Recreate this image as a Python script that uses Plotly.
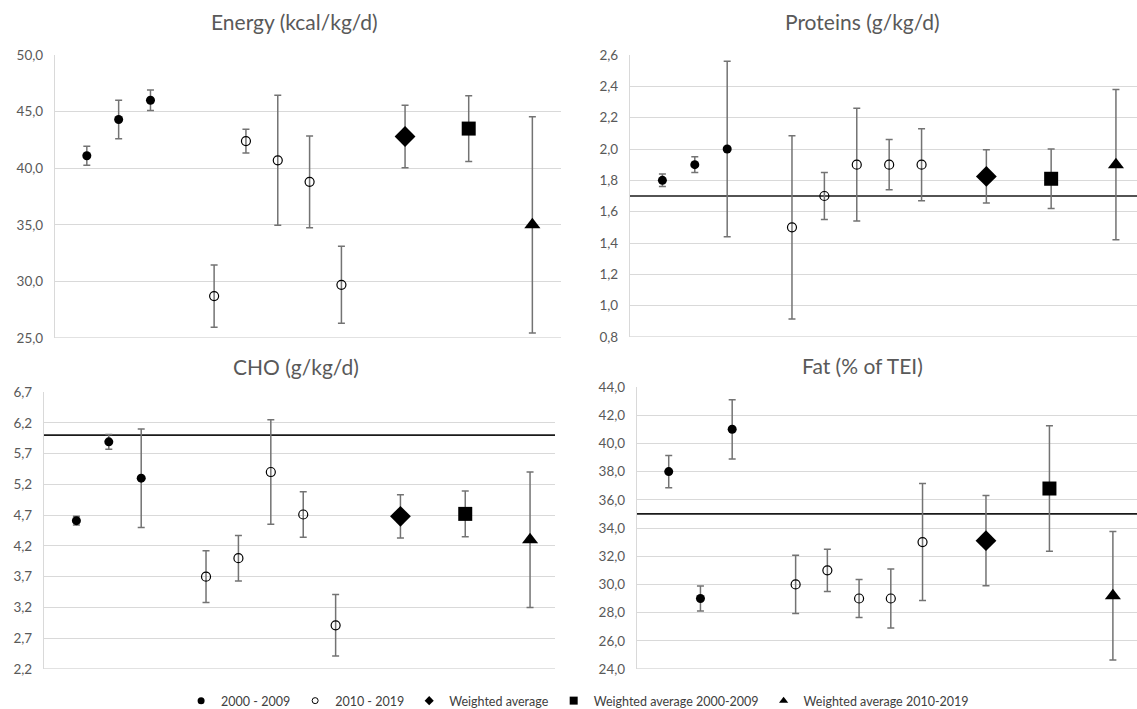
import plotly.graph_objects as go

# ---------------- data ----------------
pos_2000s = [1, 2, 3]
pos_2010s = [5, 6, 7, 8, 9]
pos_wavg = [11]
pos_wavg00 = [13]
pos_wavg10 = [15]

# Energy (kcal/kg/d)
energy_2000s = [41.1, 44.3, 46.0]
energy_2000s_err = [0.85, 1.7, 0.9]
energy_2010s = [28.7, 42.4, 40.7, 38.8, 29.7]
energy_2010s_err = [2.75, 1.05, 5.75, 4.05, 3.4]
energy_wavg, energy_wavg_err = [42.8], [2.75]
energy_wavg00, energy_wavg00_err = [43.5], [2.9]
energy_wavg10, energy_wavg10_err = [35.0], [9.55]

# Proteins (g/kg/d)
prot_2000s = [1.80, 1.90, 2.00]
prot_2000s_err = [0.04, 0.05, 0.56]
prot_2010s = [1.50, 1.70, 1.90, 1.90, 1.90]
prot_2010s_err = [0.585, 0.15, 0.36, 0.16, 0.23]
prot_wavg, prot_wavg_err = [1.825], [0.17]
prot_wavg00, prot_wavg00_err = [1.81], [0.19]
prot_wavg10, prot_wavg10_err = [1.90], [0.48]
prot_ref = 1.7

# CHO (g/kg/d)
cho_2000s = [4.61, 5.89, 5.30]
cho_2000s_err = [0.07, 0.12, 0.80]
cho_2010s = [3.70, 4.00, 5.40, 4.71, 2.91]
cho_2010s_err = [0.42, 0.37, 0.85, 0.37, 0.50]
cho_wavg, cho_wavg_err = [4.68], [0.35]
cho_wavg00, cho_wavg00_err = [4.72], [0.37]
cho_wavg10, cho_wavg10_err = [4.30], [1.10]
cho_ref = 6.0

# Fat (% of TEI)
fat_2000s = [38.0, 29.0, 41.0]
fat_2000s_err = [1.15, 0.88, 2.1]
fat_2010s = [30.0, 31.0, 29.0, 29.0, 33.0]
fat_2010s_err = [2.07, 1.5, 1.35, 2.1, 4.15]
fat_wavg, fat_wavg_err = [33.1], [3.2]
fat_wavg00, fat_wavg00_err = [36.8], [4.45]
fat_wavg10, fat_wavg10_err = [29.2], [4.56]
fat_ref = 35.0

series_names = ["2000 - 2009", "2010 - 2019", "Weighted average",
                "Weighted average 2000-2009", "Weighted average 2010-2019"]

titles = ["Energy (kcal/kg/d)", "Proteins (g/kg/d)", "CHO (g/kg/d)", "Fat (% of TEI)"]

# ---------------- styling ----------------
W, H = 1137, 709
FONT = "Lato"
TXT = "#595959"
GRID = "#d9d9d9"
ERR = "#737373"

styles = [
    dict(symbol="circle", size=9, color="black", line=dict(width=0)),
    dict(symbol="circle-open", size=9, color="black", line=dict(width=1.2)),
    dict(symbol="diamond", size=16, color="black", line=dict(width=0)),
    dict(symbol="square", size=14, color="black", line=dict(width=0)),
    dict(symbol="triangle-up", size=14, color="black", line=dict(width=0)),
]

panels = [
    dict(data=[(pos_2000s, energy_2000s, energy_2000s_err),
               (pos_2010s, energy_2010s, energy_2010s_err),
               (pos_wavg, energy_wavg, energy_wavg_err),
               (pos_wavg00, energy_wavg00, energy_wavg00_err),
               (pos_wavg10, energy_wavg10, energy_wavg10_err)],
         ref=None, yr=(25, 50), dtick=5, box=(55, 561, 55, 338), xmax=15.9),
    dict(data=[(pos_2000s, prot_2000s, prot_2000s_err),
               (pos_2010s, prot_2010s, prot_2010s_err),
               (pos_wavg, prot_wavg, prot_wavg_err),
               (pos_wavg00, prot_wavg00, prot_wavg00_err),
               (pos_wavg10, prot_wavg10, prot_wavg10_err)],
         ref=prot_ref, yr=(0.8, 2.6), dtick=0.2, box=(630, 1137, 55, 337), xmax=15.65),
    dict(data=[(pos_2000s, cho_2000s, cho_2000s_err),
               (pos_2010s, cho_2010s, cho_2010s_err),
               (pos_wavg, cho_wavg, cho_wavg_err),
               (pos_wavg00, cho_wavg00, cho_wavg00_err),
               (pos_wavg10, cho_wavg10, cho_wavg10_err)],
         ref=cho_ref, yr=(2.2, 6.7), dtick=0.5, box=(44, 555, 392, 669), xmax=15.77),
    dict(data=[(pos_2000s, fat_2000s, fat_2000s_err),
               (pos_2010s, fat_2010s, fat_2010s_err),
               (pos_wavg, fat_wavg, fat_wavg_err),
               (pos_wavg00, fat_wavg00, fat_wavg00_err),
               (pos_wavg10, fat_wavg10, fat_wavg10_err)],
         ref=fat_ref, yr=(24, 44), dtick=2, box=(637, 1137, 387, 669), xmax=15.76),
]

title_pos = [(294, 22), (862, 22), (296, 366), (862, 365)]

fig = go.Figure()
layout = dict(
    width=W, height=H, margin=dict(l=0, r=0, t=0, b=0, autoexpand=False),
    paper_bgcolor="white", plot_bgcolor="white",
    separators=",.",
    font=dict(family=FONT, color=TXT, size=13),
    showlegend=True,
    legend=dict(orientation="h", x=0.508, xanchor="center", y=1 - 701 / H, yanchor="middle",
                font=dict(family=FONT, size=12.5, color="#404040"),
                itemwidth=30, tracegroupgap=0, bgcolor="rgba(0,0,0,0)"),
    annotations=[], shapes=[],
)

for i, p in enumerate(panels):
    ax = "" if i == 0 else str(i + 1)
    xa, ya = "x" + ax, "y" + ax
    l, r, t, b = p["box"]
    layout["xaxis" + ax] = dict(domain=[l / W, r / W], range=[0, p["xmax"]], showgrid=False,
                                zeroline=False, showticklabels=False, ticks="",
                                showline=False, anchor=ya, fixedrange=True, automargin=False)
    layout["yaxis" + ax] = dict(domain=[1 - b / H, 1 - t / H], range=list(p["yr"]),
                                tick0=p["yr"][0], dtick=p["dtick"], tickformat=".1f",
                                showgrid=True, gridcolor=GRID, gridwidth=1.3,
                                zeroline=False, showline=True, linecolor=GRID, linewidth=1.3,
                                ticks="", ticklabelstandoff=8,
                                tickfont=dict(family=FONT, size=13.5, color=TXT),
                                anchor=xa, fixedrange=True, automargin=False)
    layout["shapes"].append(dict(type="line", xref=xa + " domain", yref=ya,
                                 x0=0, x1=1, y0=p["yr"][0], y1=p["yr"][0],
                                 line=dict(color=GRID, width=1.3), layer="below"))
    if p["ref"] is not None:
        layout["shapes"].append(dict(type="line", xref=xa + " domain", yref=ya,
                                     x0=0, x1=1, y0=p["ref"], y1=p["ref"],
                                     line=dict(color="#1a1a1a", width=1.6), layer="below"))
    for k, (xs, ys, es) in enumerate(p["data"]):
        fig.add_trace(go.Scatter(
            x=xs, y=ys, mode="markers", xaxis=xa, yaxis=ya,
            name=series_names[k], showlegend=False, cliponaxis=False,
            marker=styles[k],
            error_y=dict(type="data", array=es, visible=True, color=ERR,
                         thickness=1.5, width=3.5),
            hoverinfo="y",
        ))
    tx, ty = title_pos[i]
    layout["annotations"].append(dict(text=titles[i], x=tx / W, y=1 - ty / H,
                                      xref="paper", yref="paper", showarrow=False,
                                      xanchor="center", yanchor="middle",
                                      font=dict(family=FONT, size=21, color=TXT)))

# legend keys (legend-only entries with small symbols, no data)
legend_sizes = [7, 6, 7, 8, 8]
for k, name in enumerate(series_names):
    st = dict(styles[k])
    st["size"] = legend_sizes[k]
    if k == 1:
        st["line"] = dict(width=1)
    fig.add_trace(go.Scatter(x=[None], y=[None], mode="markers", name=name,
                             marker=st, showlegend=True, xaxis="x", yaxis="y"))

fig.update_layout(**layout)
fig.write_html("out.html", config={"displayModeBar": False},
               post_script="document.body.style.margin='0';document.body.style.overflow='hidden';")
